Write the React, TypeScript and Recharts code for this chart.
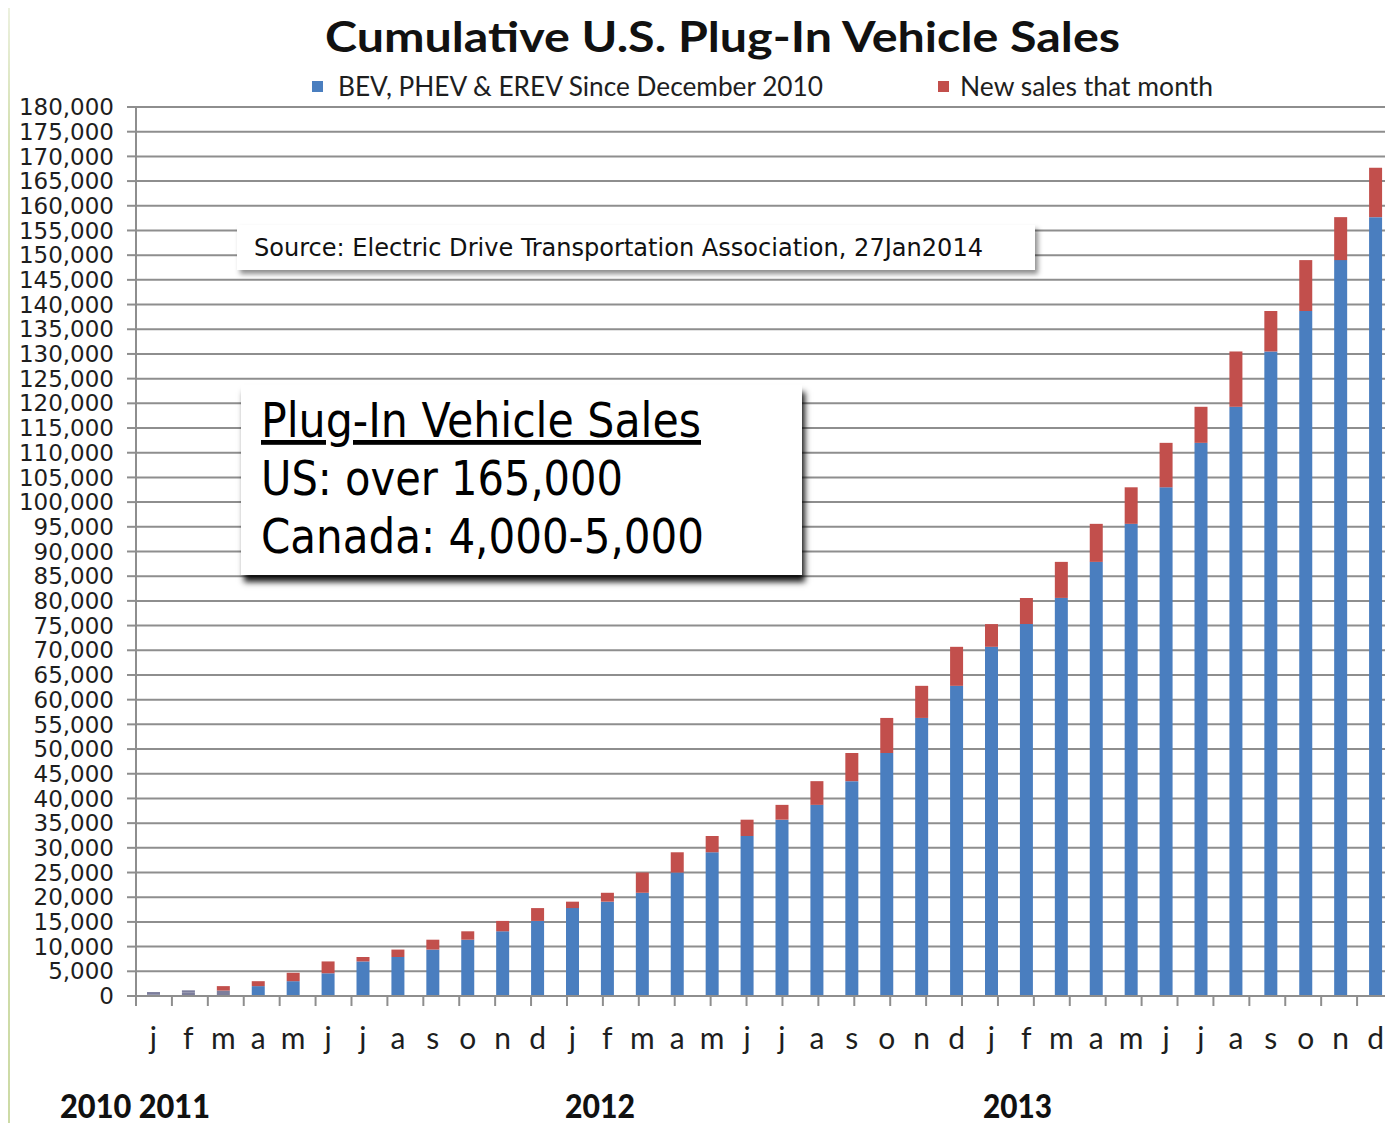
import React from "react";
import { BarChart, Bar, XAxis, YAxis, CartesianGrid, Cell } from "recharts";

// month initials, Jan 2011 .. Dec 2013
const months = [
  "j", "f", "m", "a", "m", "j", "j", "a", "s", "o", "n", "d",
  "j", "f", "m", "a", "m", "j", "j", "a", "s", "o", "n", "d",
  "j", "f", "m", "a", "m", "j", "j", "a", "s", "o", "n", "d",
];

// cumulative sales up to the previous month (blue part)
const priorTotal = [
  350, 750, 1100, 2000, 3000, 4600, 7000, 7900, 9400, 11400, 13100, 15200,
  17800, 19100, 20900, 25000, 29100, 32400, 35700, 38700, 43500, 49200, 56300, 62800,
  70700, 75300, 80600, 87900, 95600, 103000, 112000, 119300, 130500, 138700, 149000, 157700,
];

// new sales in the month (red part)
const newSales = [
  450, 400, 900, 1000, 1700, 2400, 900, 1500, 2000, 1700, 2100, 2600,
  1300, 1800, 4100, 4100, 3300, 3300, 3000, 4800, 5700, 7100, 6500, 7900,
  4600, 5300, 7300, 7700, 7400, 9000, 7300, 11200, 8200, 10300, 8700, 10000,
];

const yTicks = [
  0, 5000, 10000, 15000, 20000, 25000, 30000, 35000, 40000, 45000, 50000,
  55000, 60000, 65000, 70000, 75000, 80000, 85000, 90000, 95000, 100000,
  105000, 110000, 115000, 120000, 125000, 130000, 135000, 140000, 145000,
  150000, 155000, 160000, 165000, 170000, 175000, 180000,
];

const BLUE = "#4a7ebf";
const RED = "#c24f4c";
const GREY_BAR = "#7c7e9c";
const GRID = "#8e8e8e";

const data = months.map((m, i) => ({
  month: m,
  prior: priorTotal[i],
  added: newSales[i],
}));

// boundaries between month columns, for the tick marks
const boundaries = [...months.map((_, i) => i), months.length];

const condensed = "'DejaVu Sans Condensed', 'DejaVu Sans', sans-serif";

const NoLabel = () => <g />;

export default function App() {
  return (
    <div
      style={{
        position: "relative",
        width: 1393,
        height: 1131,
        margin: -8,
        background: "#ffffff",
        overflow: "hidden",
      }}
    >
      <div style={{ position: "absolute", left: 0, top: 0 }}>
        <BarChart
          width={1393}
          height={1131}
          data={data}
          margin={{ top: 107, right: 0, bottom: 133, left: 0 }}
        >
          <CartesianGrid vertical={false} stroke={GRID} strokeWidth={2} />
          <YAxis
            type="number"
            domain={[0, 180000]}
            ticks={yTicks}
            interval={0}
            width={136}
            stroke={GRID}
            strokeWidth={2}
            tickSize={9}
            tickMargin={13}
            tick={{ fontSize: 23, fontFamily: "'DejaVu Sans', sans-serif", fill: "#1e1e1e" }}
            tickFormatter={(v: number) => v.toLocaleString("en-US")}
          />
          <XAxis
            xAxisId="bounds"
            type="number"
            domain={[0, months.length]}
            allowDataOverflow
            ticks={boundaries}
            interval={0}
            height={1}
            axisLine={false}
            tickSize={9}
            tickLine={{ stroke: GRID, strokeWidth: 2 }}
            tick={NoLabel}
          />
          <XAxis
            dataKey="month"
            height={1}
            interval={0}
            stroke={GRID}
            strokeWidth={2}
            tickLine={false}
            tickSize={8}
            tickMargin={24}
            tick={{ fontSize: 30, fontFamily: "Lato, sans-serif", fill: "#1e1e1e" }}
          />
          <Bar dataKey="prior" stackId="a" fill={BLUE} barSize={13} isAnimationActive={false}>
            {data.map((_, i) => (
              <Cell key={i} fill={i < 3 ? GREY_BAR : BLUE} />
            ))}
          </Bar>
          <Bar dataKey="added" stackId="a" fill={RED} barSize={13} isAnimationActive={false}>
            {data.map((_, i) => (
              <Cell key={i} fill={i < 2 ? GREY_BAR : RED} />
            ))}
          </Bar>
        </BarChart>
      </div>

      <svg
        width={1393}
        height={1131}
        style={{ position: "absolute", left: 0, top: 0, pointerEvents: "none" }}
      >
        <text
          x={325}
          y={52}
          fontSize={42}
          fontWeight={700}
          fontFamily="Lato, sans-serif"
          fill="#111"
          textLength={795}
          lengthAdjust="spacingAndGlyphs"
        >
          Cumulative U.S. Plug-In Vehicle Sales
        </text>

        <rect x={312} y={81} width={11} height={11} fill={BLUE} />
        <text x={338} y={96} fontSize={27} fontFamily="Lato, sans-serif" fill="#1e1e1e" textLength={485} lengthAdjust="spacingAndGlyphs">
          BEV, PHEV &amp; EREV Since December 2010
        </text>
        <rect x={938} y={81} width={11} height={11} fill={RED} />
        <text x={960} y={96} fontSize={27} fontFamily="Lato, sans-serif" fill="#1e1e1e" textLength={253} lengthAdjust="spacingAndGlyphs">
          New sales that month
        </text>

        <text x={60} y={1118} fontSize={32} fontWeight={900} fontFamily="Lato, sans-serif" fill="#111" textLength={150} lengthAdjust="spacingAndGlyphs">
          2010 2011
        </text>
        <text x={565} y={1118} fontSize={32} fontWeight={900} fontFamily="Lato, sans-serif" fill="#111" textLength={70} lengthAdjust="spacingAndGlyphs">
          2012
        </text>
        <text x={983} y={1118} fontSize={32} fontWeight={900} fontFamily="Lato, sans-serif" fill="#111" textLength={69} lengthAdjust="spacingAndGlyphs">
          2013
        </text>
      </svg>

      <div
        style={{
          position: "absolute",
          left: 237,
          top: 225,
          width: 798,
          height: 45,
          background: "#fff",
          boxShadow: "3px 4px 5px rgba(0,0,0,0.45)",
        }}
      >
        <svg width={798} height={45}>
          <text x={17} y={31} fontSize={25} fontFamily={condensed} fill="#111" textLength={729} lengthAdjust="spacingAndGlyphs">
            Source: Electric Drive Transportation Association, 27Jan2014
          </text>
        </svg>
      </div>

      <div
        style={{
          position: "absolute",
          left: 241,
          top: 385,
          width: 561,
          height: 190,
          background: "#fff",
          boxShadow: "3px 7px 6px rgba(0,0,0,0.9)",
        }}
      >
        <svg width={561} height={190}>
          <text x={20} y={52} fontSize={48} fontFamily={condensed} fill="#000" textLength={440} lengthAdjust="spacingAndGlyphs" style={{ textDecoration: "underline" }}>
            Plug-In Vehicle Sales
          </text>
          <text x={20} y={110} fontSize={48} fontFamily={condensed} fill="#000" textLength={362} lengthAdjust="spacingAndGlyphs">
            US: over 165,000
          </text>
          <text x={20} y={168} fontSize={48} fontFamily={condensed} fill="#000" textLength={443} lengthAdjust="spacingAndGlyphs">
            Canada: 4,000-5,000
          </text>
        </svg>
      </div>

      {/* page frame: green strip on the left, pale band on top */}
      <div
        style={{
          position: "absolute",
          left: 0,
          top: 0,
          width: 10,
          height: 1131,
          zIndex: 5,
          background: "linear-gradient(to bottom, #eef2e2 0%, #d4e0b2 12%, #cddba6 100%)",
        }}
      />
      <div
        style={{
          position: "absolute",
          left: 10,
          top: 0,
          width: 1383,
          height: 6,
          zIndex: 5,
          background: "#f1f4e8",
        }}
      />
    </div>
  );
}
